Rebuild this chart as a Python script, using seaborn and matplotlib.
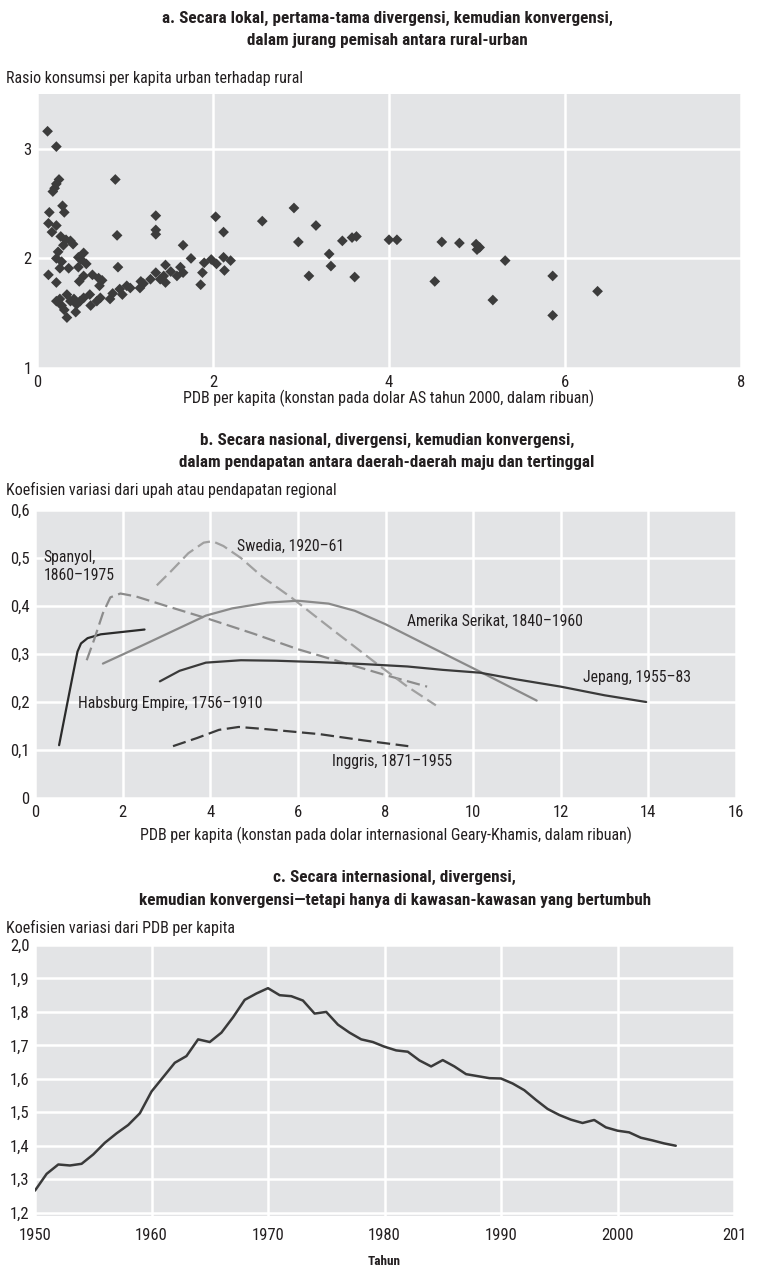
import matplotlib
matplotlib.use("Agg")
import numpy as np
import pandas as pd
import matplotlib.pyplot as plt
import seaborn as sns
from matplotlib.ticker import FuncFormatter

# ---- panel a: rural-urban consumption ratio ----
pdb_a = [0.12, 0.22, 0.25, 0.22, 0.20, 0.18, 0.89, 0.29, 0.31, 0.14, 0.13, 0.22, 0.17,
         1.35, 1.35, 1.35, 2.03, 2.56, 0.91, 2.12, 0.27, 0.33, 0.38, 0.41, 0.30, 1.66,
         0.24, 0.22, 0.28, 0.26, 0.36, 0.53, 0.47, 0.50, 0.56, 0.47, 1.75, 1.46, 1.90,
         1.98, 2.04, 2.12, 2.20, 2.13, 0.92, 0.13, 0.53, 0.63, 0.22, 0.48, 0.70, 0.74,
         0.71, 1.63, 1.66, 1.59, 1.52, 1.35, 1.40, 1.44, 1.46, 1.29, 1.18, 1.21, 1.17,
         1.06, 1.02, 0.97, 0.94, 0.86, 0.83, 1.88, 1.86, 0.72, 0.68, 0.60, 0.61, 0.53,
         0.49, 0.45, 0.42, 0.38, 0.34, 0.26, 0.22, 0.28, 0.31, 0.44, 0.34,
         2.92, 3.17, 2.97, 3.47, 3.58, 3.63, 3.32, 3.34, 3.09, 3.61, 4.00, 4.09, 4.60,
         4.80, 4.99, 5.03, 5.00, 5.32, 4.52, 5.18, 5.86, 5.86, 6.37]
rasio_a = [3.16, 3.02, 2.72, 2.68, 2.64, 2.61, 2.72, 2.48, 2.42, 2.42, 2.32, 2.30, 2.24,
           2.39, 2.26, 2.22, 2.38, 2.34, 2.21, 2.24, 2.20, 2.17, 2.16, 2.13, 2.12, 2.12,
           2.06, 2.00, 1.97, 1.91, 1.91, 2.05, 2.01, 1.99, 1.95, 1.92, 2.00, 1.94, 1.96,
           1.99, 1.95, 2.01, 1.98, 1.89, 1.92, 1.85, 1.84, 1.85, 1.78, 1.79, 1.82, 1.80,
           1.75, 1.92, 1.87, 1.84, 1.88, 1.87, 1.81, 1.84, 1.78, 1.81, 1.79, 1.77, 1.73,
           1.73, 1.75, 1.67, 1.72, 1.68, 1.63, 1.87, 1.76, 1.64, 1.61, 1.67, 1.57, 1.64,
           1.61, 1.58, 1.63, 1.61, 1.67, 1.63, 1.61, 1.57, 1.53, 1.51, 1.46,
           2.46, 2.30, 2.15, 2.16, 2.19, 2.20, 2.04, 1.93, 1.84, 1.83, 2.17, 2.17, 2.15,
           2.14, 2.13, 2.10, 2.08, 1.98, 1.79, 1.62, 1.84, 1.48, 1.70]

# ---- panel b: regional coefficient of variation ----
habsburg_x = [0.55, 0.70, 0.85, 0.97, 1.05, 1.2, 1.5, 2.0, 2.5]
habsburg_y = [0.11, 0.18, 0.25, 0.305, 0.322, 0.333, 0.341, 0.346, 0.351]
spanyol_x = [1.18, 1.35, 1.55, 1.72, 1.95, 2.3, 3.0, 4.0, 5.0, 6.0, 7.0, 8.0, 8.95]
spanyol_y = [0.287, 0.33, 0.385, 0.418, 0.426, 0.42, 0.40, 0.372, 0.342, 0.31, 0.283, 0.256, 0.232]
swedia_x = [2.78, 3.1, 3.5, 3.85, 4.05, 4.3, 4.7, 5.2, 5.86, 6.8, 7.84, 8.5, 9.15]
swedia_y = [0.443, 0.472, 0.51, 0.532, 0.535, 0.525, 0.50, 0.46, 0.417, 0.35, 0.277, 0.232, 0.193]
as_x = [1.55, 2.5, 3.9, 4.5, 5.3, 6.0, 6.7, 7.3, 8.0, 9.0, 10.16, 11.45]
as_y = [0.28, 0.32, 0.38, 0.395, 0.407, 0.411, 0.405, 0.39, 0.362, 0.316, 0.263, 0.203]
jepang_x = [2.85, 3.3, 3.9, 4.7, 5.5, 6.5, 7.5, 8.5, 9.3, 10.16, 11.0, 12.0, 13.0, 13.95]
jepang_y = [0.243, 0.265, 0.282, 0.287, 0.286, 0.283, 0.279, 0.274, 0.267, 0.261, 0.247, 0.232, 0.214, 0.2]
inggris_x = [3.15, 3.7, 4.2, 4.65, 5.2, 6.5, 7.5, 8.52]
inggris_y = [0.108, 0.125, 0.142, 0.148, 0.144, 0.133, 0.12, 0.108]

# ---- panel c: international coefficient of variation ----
tahun_c = list(range(1950, 2006))
cv_c = [1.266, 1.316, 1.344, 1.341, 1.346, 1.374, 1.409, 1.437, 1.462, 1.497,
        1.562, 1.605, 1.648, 1.668, 1.718, 1.710, 1.738, 1.784, 1.836, 1.855,
        1.871, 1.850, 1.847, 1.834, 1.795, 1.800, 1.762, 1.738, 1.718, 1.710,
        1.696, 1.685, 1.681, 1.655, 1.637, 1.656, 1.637, 1.614, 1.608, 1.602,
        1.601, 1.586, 1.566, 1.537, 1.510, 1.492, 1.478, 1.468, 1.477, 1.455,
        1.445, 1.440, 1.424, 1.416, 1.407, 1.400]

sns.set_theme(style="darkgrid")
FONT = ['Liberation Sans Narrow', 'Roboto Condensed', 'DejaVu Sans Condensed', 'DejaVu Sans']
plt.rcParams['font.family'] = FONT
plt.rcParams['axes.facecolor'] = '#e3e4e6'
plt.rcParams['grid.color'] = 'white'
plt.rcParams['grid.linewidth'] = 1.8
plt.rcParams['text.color'] = '#231f20'
plt.rcParams['xtick.color'] = '#231f20'
plt.rcParams['ytick.color'] = '#231f20'
plt.rcParams['axes.labelcolor'] = '#231f20'

W, H = 759, 1268
fig = plt.figure(figsize=(W / 100, H / 100), dpi=100)


def box(l, r, t, b):
    return [l / W, 1 - b / H, (r - l) / W, (b - t) / H]


def comma(v, pos):
    if abs(v) < 1e-9:
        return '0'
    return f'{v:.1f}'.replace('.', ',')


TS = 11.5   # axis titles
TB = 12.3   # bold panel titles
TK = 12     # tick labels

# ------------- panel a -------------
axA = fig.add_axes(box(37, 741, 94, 368))
sns.scatterplot(x=pdb_a, y=rasio_a, marker='D', s=30, color='#3c3c3c',
                edgecolor='none', ax=axA)
axA.set_xlim(0, 8)
axA.set_ylim(1, 3.5)
axA.set_xticks([0, 2, 4, 6, 8])
axA.set_yticks([1, 2, 3])
axA.tick_params(axis='y', labelsize=TK, pad=4)
axA.tick_params(axis='x', labelsize=TK, pad=5)
axA.set_xlabel('PDB per kapita (konstan pada dolar AS tahun 2000, dalam ribuan)',
               fontsize=TS, labelpad=0)
fig.text(0.51, 1 - 18 / H, 'a. Secara lokal, pertama-tama divergensi, kemudian konvergensi,',
         ha='center', va='center', fontsize=TB, fontweight='bold')
fig.text(0.51, 1 - 41 / H, 'dalam jurang pemisah antara rural-urban',
         ha='center', va='center', fontsize=TB, fontweight='bold')
fig.text(6 / W, 1 - 78 / H, 'Rasio konsumsi per kapita urban terhadap rural',
         ha='left', va='center', fontsize=TS)

# ------------- panel b -------------
axB = fig.add_axes(box(35, 736, 510, 798))
series_b = [
    (habsburg_x, habsburg_y, '#2b2b2b', '-'),
    (spanyol_x, spanyol_y, '#8c8c8c', (0, (6, 2.5))),
    (swedia_x, swedia_y, '#a0a0a0', (0, (6, 2.5))),
    (as_x, as_y, '#8a8a8a', '-'),
    (jepang_x, jepang_y, '#3a3a3a', '-'),
    (inggris_x, inggris_y, '#3a3a3a', (0, (6, 2.5))),
]
for xs, ys, c, ls in series_b:
    sns.lineplot(x=xs, y=ys, sort=False, color=c, linestyle=ls, linewidth=1.6, ax=axB)
axB.set_xlim(0, 16)
axB.set_ylim(0, 0.6)
axB.set_xticks(range(0, 17, 2))
axB.set_yticks([0, 0.1, 0.2, 0.3, 0.4, 0.5, 0.6])
axB.yaxis.set_major_formatter(FuncFormatter(comma))
axB.tick_params(axis='y', labelsize=TK, pad=4)
axB.tick_params(axis='x', labelsize=TK, pad=5)
axB.set_xlabel('PDB per kapita (konstan pada dolar internasional Geary-Khamis, dalam ribuan)',
               fontsize=TS, labelpad=5)
lab = dict(fontsize=11.3, ha='left', va='center')
axB.text(0.2, 0.482, 'Spanyol,\n1860–1975', linespacing=1.2, **lab)
axB.text(4.6, 0.525, 'Swedia, 1920–61', **lab)
axB.text(8.5, 0.368, 'Amerika Serikat, 1840–1960', **lab)
axB.text(12.5, 0.25, 'Jepang, 1955–83', **lab)
axB.text(0.98, 0.196, 'Habsburg Empire, 1756–1910', **lab)
axB.text(6.78, 0.077, 'Inggris, 1871–1955', **lab)
fig.text(0.51, 1 - 440 / H, 'b. Secara nasional, divergensi, kemudian konvergensi,',
         ha='center', va='center', fontsize=TB, fontweight='bold')
fig.text(0.51, 1 - 463 / H, 'dalam pendapatan antara daerah-daerah maju dan tertinggal',
         ha='center', va='center', fontsize=TB, fontweight='bold')
fig.text(6 / W, 1 - 490 / H, 'Koefisien variasi dari upah atau pendapatan regional',
         ha='left', va='center', fontsize=TS)

# ------------- panel c -------------
axC = fig.add_axes(box(35, 734, 945, 1216))
sns.lineplot(x=tahun_c, y=cv_c, color='#3a3a3a', linewidth=1.8, ax=axC)
axC.set_xlim(1950, 2010)
axC.set_ylim(1.19, 2.0)
axC.set_xticks(range(1950, 2011, 10))
axC.set_xticklabels(['1950', '1960', '1970', '1980', '1990', '2000', '201'])
axC.set_yticks([1.2, 1.3, 1.4, 1.5, 1.6, 1.7, 1.8, 1.9, 2.0])
axC.yaxis.set_major_formatter(FuncFormatter(comma))
axC.tick_params(axis='y', labelsize=TK, pad=4)
axC.tick_params(axis='x', labelsize=TK, pad=9)
axC.set_xlabel('Tahun', fontsize=9.5, fontweight='bold', labelpad=8)
fig.text(0.52, 1 - 877 / H, 'c. Secara internasional, divergensi,',
         ha='center', va='center', fontsize=TB, fontweight='bold')
fig.text(0.52, 1 - 900 / H,
         'kemudian konvergensi—tetapi hanya di kawasan-kawasan yang bertumbuh',
         ha='center', va='center', fontsize=TB, fontweight='bold')
fig.text(6 / W, 1 - 928 / H, 'Koefisien variasi dari PDB per kapita',
         ha='left', va='center', fontsize=TS)

for ax in (axA, axB, axC):
    for s in ax.spines.values():
        s.set_visible(False)
    ax.tick_params(length=0)
    ax.set_ylabel('')

fig.savefig('out.png', dpi=100, facecolor='white')
